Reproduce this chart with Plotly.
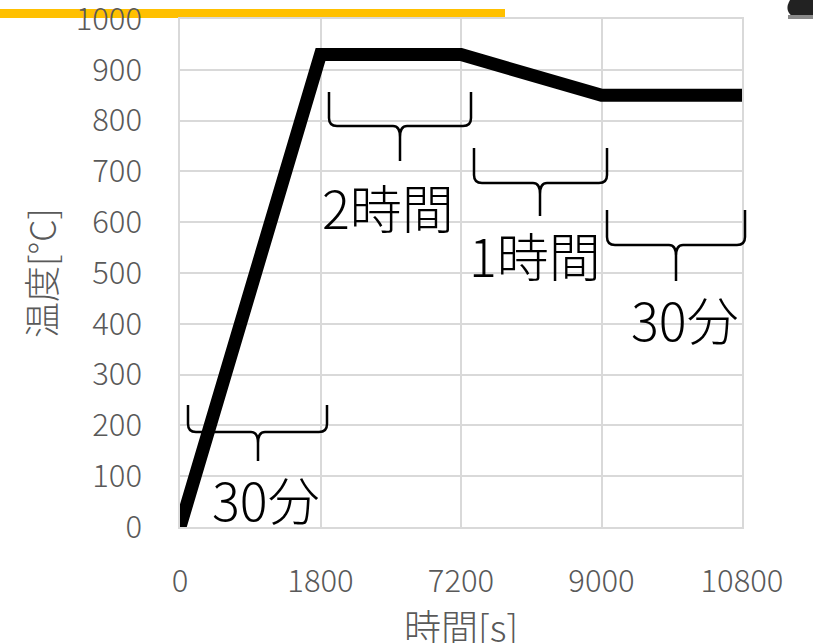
import plotly.graph_objects as go

# Heating schedule: time [s] vs. temperature [°C]
time_s = ["0", "1800", "7200", "9000", "10800"]
temp_c = [0, 930, 930, 850, 850]
y_ticks = [0, 100, 200, 300, 400, 500, 600, 700, 800, 900, 1000]

# Duration labels for each stage of the schedule
stage_labels = ["30分", "2時間", "1時間", "30分"]

W, H = 813, 643
L, R, T, B = 180, 71, 19, 116
PW, PH = W - L - R, H - T - B

GRAY = "#595959"
FONT = "Noto Sans CJK JP"


def px(x):
    return (x - L) / PW


def py(y):
    return 1 - (y - T) / PH


def brace(x0, x1, yt, ym, yb, xc=None):
    """Curly brace opening upward, with its tip pointing down."""
    if xc is None:
        xc = (x0 + x1) / 2
    r = 8
    c = 7
    pts = [
        f"M {px(x0)},{py(yt)}",
        f"L {px(x0)},{py(ym - r)}",
        f"Q {px(x0)},{py(ym)} {px(x0 + r)},{py(ym)}",
        f"L {px(xc - c)},{py(ym)}",
        f"Q {px(xc)},{py(ym)} {px(xc)},{py(ym + c + 4)}",
        f"L {px(xc)},{py(yb)}",
        f"M {px(xc)},{py(ym + c + 4)}",
        f"Q {px(xc)},{py(ym)} {px(xc + c)},{py(ym)}",
        f"L {px(x1 - r)},{py(ym)}",
        f"Q {px(x1)},{py(ym)} {px(x1)},{py(ym - r)}",
        f"L {px(x1)},{py(yt)}",
    ]
    return dict(type="path", xref="paper", yref="paper", path=" ".join(pts),
                line=dict(color="black", width=2.5), layer="above")


fig = go.Figure()
fig.add_trace(go.Scatter(
    x=time_s, y=temp_c, mode="lines",
    line=dict(color="black", width=13),
    hoverinfo="skip", showlegend=False,
))

shapes = [
    # yellow banner across the top
    dict(type="rect", xref="paper", yref="paper",
         x0=px(0), x1=px(505), y0=py(18), y1=py(9),
         fillcolor="#FFC000", line=dict(width=0), layer="below"),
    # small dark mark in the upper right corner
    dict(type="path", xref="paper", yref="paper",
         path=f"M {px(790)},{py(0)} L {px(813)},{py(0)} L {px(813)},{py(16)} "
              f"L {px(792)},{py(16)} Q {px(784)},{py(10)} {px(790)},{py(0)} Z",
         fillcolor="#222222", line=dict(width=0), layer="above"),
    dict(type="line", xref="paper", yref="paper",
         x0=px(788), x1=px(813), y0=py(17), y1=py(17),
         line=dict(color="#8a8a8a", width=4), layer="above"),
    brace(188, 327, 405, 432, 461, 258),
    brace(329, 471, 92, 126, 161, 400),
    brace(474, 607, 148, 183, 216, 540),
    brace(607, 745, 210, 245, 281, 676),
]

label_pos = [(266, 498), (388, 206), (535, 254), (685, 318)]
annotations = [
    dict(text=t, x=px(x), y=py(y), xref="paper", yref="paper",
         showarrow=False, xanchor="center", yanchor="middle",
         font=dict(family=FONT, size=52, color="black", weight=300))
    for t, (x, y) in zip(stage_labels, label_pos)
]
# x-axis title, placed low so it runs off the bottom edge
annotations.append(dict(
    text="時間[s]", x=px(461), y=py(626), xref="paper", yref="paper",
    showarrow=False, xanchor="center", yanchor="middle",
    font=dict(family=FONT, size=37, color=GRAY, weight=300)))

fig.update_layout(
    width=W, height=H,
    margin=dict(l=L, r=R, t=T, b=B, autoexpand=False),
    paper_bgcolor="white", plot_bgcolor="white",
    shapes=shapes, annotations=annotations,
    xaxis=dict(
        type="category", range=[0, len(time_s) - 1],
        showgrid=True, gridcolor="#d9d9d9", gridwidth=1.5,
        showline=True, linecolor="#d9d9d9", linewidth=1.5, mirror=True,
        zeroline=False, ticks="outside", ticklen=26,
        tickcolor="rgba(0,0,0,0)", ticklabeloverflow="allow",
        tickfont=dict(family=FONT, size=31, color=GRAY, weight=300),
        automargin=False,
    ),
    yaxis=dict(
        range=[0, 1000], tickvals=y_ticks,
        showgrid=True, gridcolor="#d9d9d9", gridwidth=1.5,
        showline=True, linecolor="#d9d9d9", linewidth=1.5, mirror=True,
        zeroline=False, ticks="outside", ticklen=30,
        tickcolor="rgba(0,0,0,0)", ticklabeloverflow="allow",
        tickfont=dict(family=FONT, size=31, color=GRAY, weight=300),
        title=dict(text="温度[°C]", standoff=8,
                   font=dict(family=FONT, size=36, color=GRAY, weight=300)),
        automargin=False,
    ),
)

fig.write_html("out.html")
